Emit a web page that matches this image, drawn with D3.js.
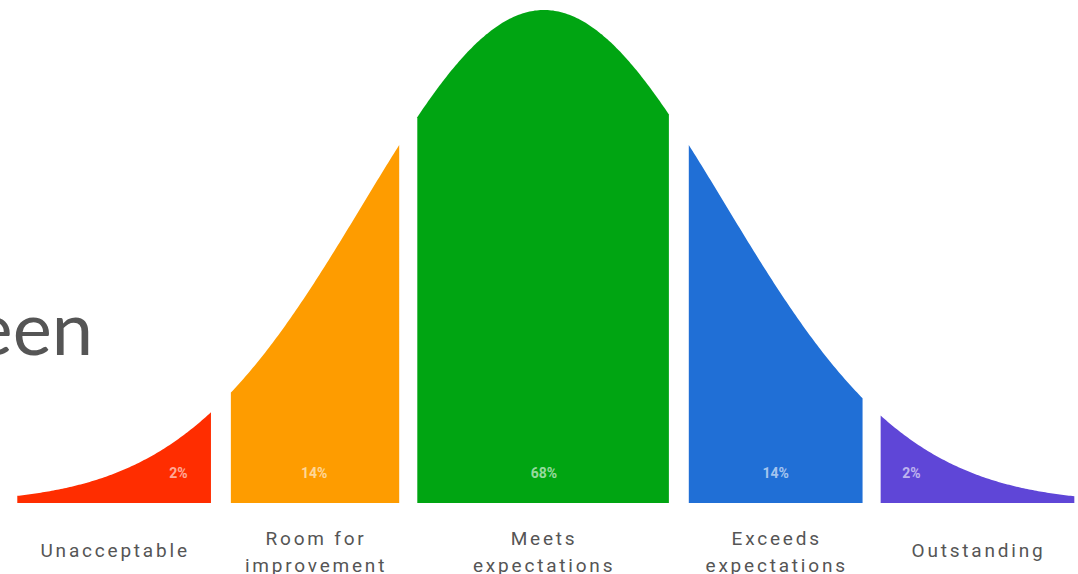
<!DOCTYPE html>
<html>
<head>
<meta charset="utf-8">
<script src="https://cdn.jsdelivr.net/npm/d3@7"></script>
<style>
  body { margin: 0; background: #fff; }
  svg { display: block; }
</style>
</head>
<body>
<svg width="1078" height="574"></svg>
<script>
// categorias y porcentajes
var categories = ["Unacceptable", "Room for improvement", "Meets expectations", "Exceeds expectations", "Outstanding"];
var labelLines = [["Unacceptable"], ["Room for", "improvement"], ["Meets", "expectations"], ["Exceeds", "expectations"], ["Outstanding"]];
var shares = ["2%", "14%", "68%", "14%", "2%"];
// limites de cada tramo, en desviaciones tipicas
var segStart = [-2.91, -1.73, -0.70, 0.80, 1.86];
var segEnd = [-1.84, -0.80, 0.69, 1.76, 2.93];
// donde va el texto del porcentaje
var shareAt = [-2.02, -1.27, 0, 1.28, 2.03];
var colors = ["#ff2d00", "#fe9c00", "#00a512", "#206fd6", "#5f46d7"];

var svg = d3.select("svg"),
  width = +svg.attr("width"),
  height = +svg.attr("height");

var x = d3.scaleLinear().domain([-3, 3]).range([1, 1087]);
var y = d3.scaleLinear().domain([0, 1]).range([503, 10]);

// forma de campana (densidad normal, pico = 1)
function bell(z) { return Math.exp(-z * z / 2); }

var area = d3.area()
  .x(function (d) { return x(d); })
  .y0(y(0))
  .y1(function (d) { return y(bell(d)); });

// texto cortado a la izquierda
svg.append("text")
  .attr("x", 93)
  .attr("y", 355)
  .attr("text-anchor", "end")
  .attr("font-family", "Lato, sans-serif")
  .attr("font-size", "74px")
  .attr("fill", "#555")
  .text("een");

var seg = svg.selectAll(".seg")
  .data(categories)
  .enter()
  .append("g")
  .attr("class", "seg");

seg.append("path")
  .attr("d", function (d, i) {
    var pts = d3.range(segStart[i], segEnd[i], 0.01);
    pts.push(segEnd[i]);
    return area(pts);
  })
  .attr("fill", function (d, i) { return colors[i]; });

seg.append("text")
  .attr("x", function (d, i) { return x(shareAt[i]); })
  .attr("y", 478)
  .attr("text-anchor", "middle")
  .attr("font-family", "Roboto, sans-serif")
  .attr("font-size", "14px")
  .attr("font-weight", "bold")
  .attr("fill", "#fff")
  .attr("fill-opacity", 0.6)
  .text(function (d, i) { return shares[i]; });

seg.append("text")
  .attr("text-anchor", "middle")
  .attr("font-family", "Roboto, sans-serif")
  .attr("font-size", "19px")
  .attr("letter-spacing", "2.8px")
  .attr("fill", "#555")
  .each(function (d, i) {
    var t = d3.select(this);
    var cx = x((segStart[i] + segEnd[i]) / 2) + 1;
    var lines = labelLines[i];
    var y0 = lines.length == 1 ? 557 : 545;
    lines.forEach(function (l, k) {
      t.append("tspan")
        .attr("x", cx)
        .attr("y", y0 + k * 27)
        .text(l);
    });
  });
</script>
</body>
</html>
